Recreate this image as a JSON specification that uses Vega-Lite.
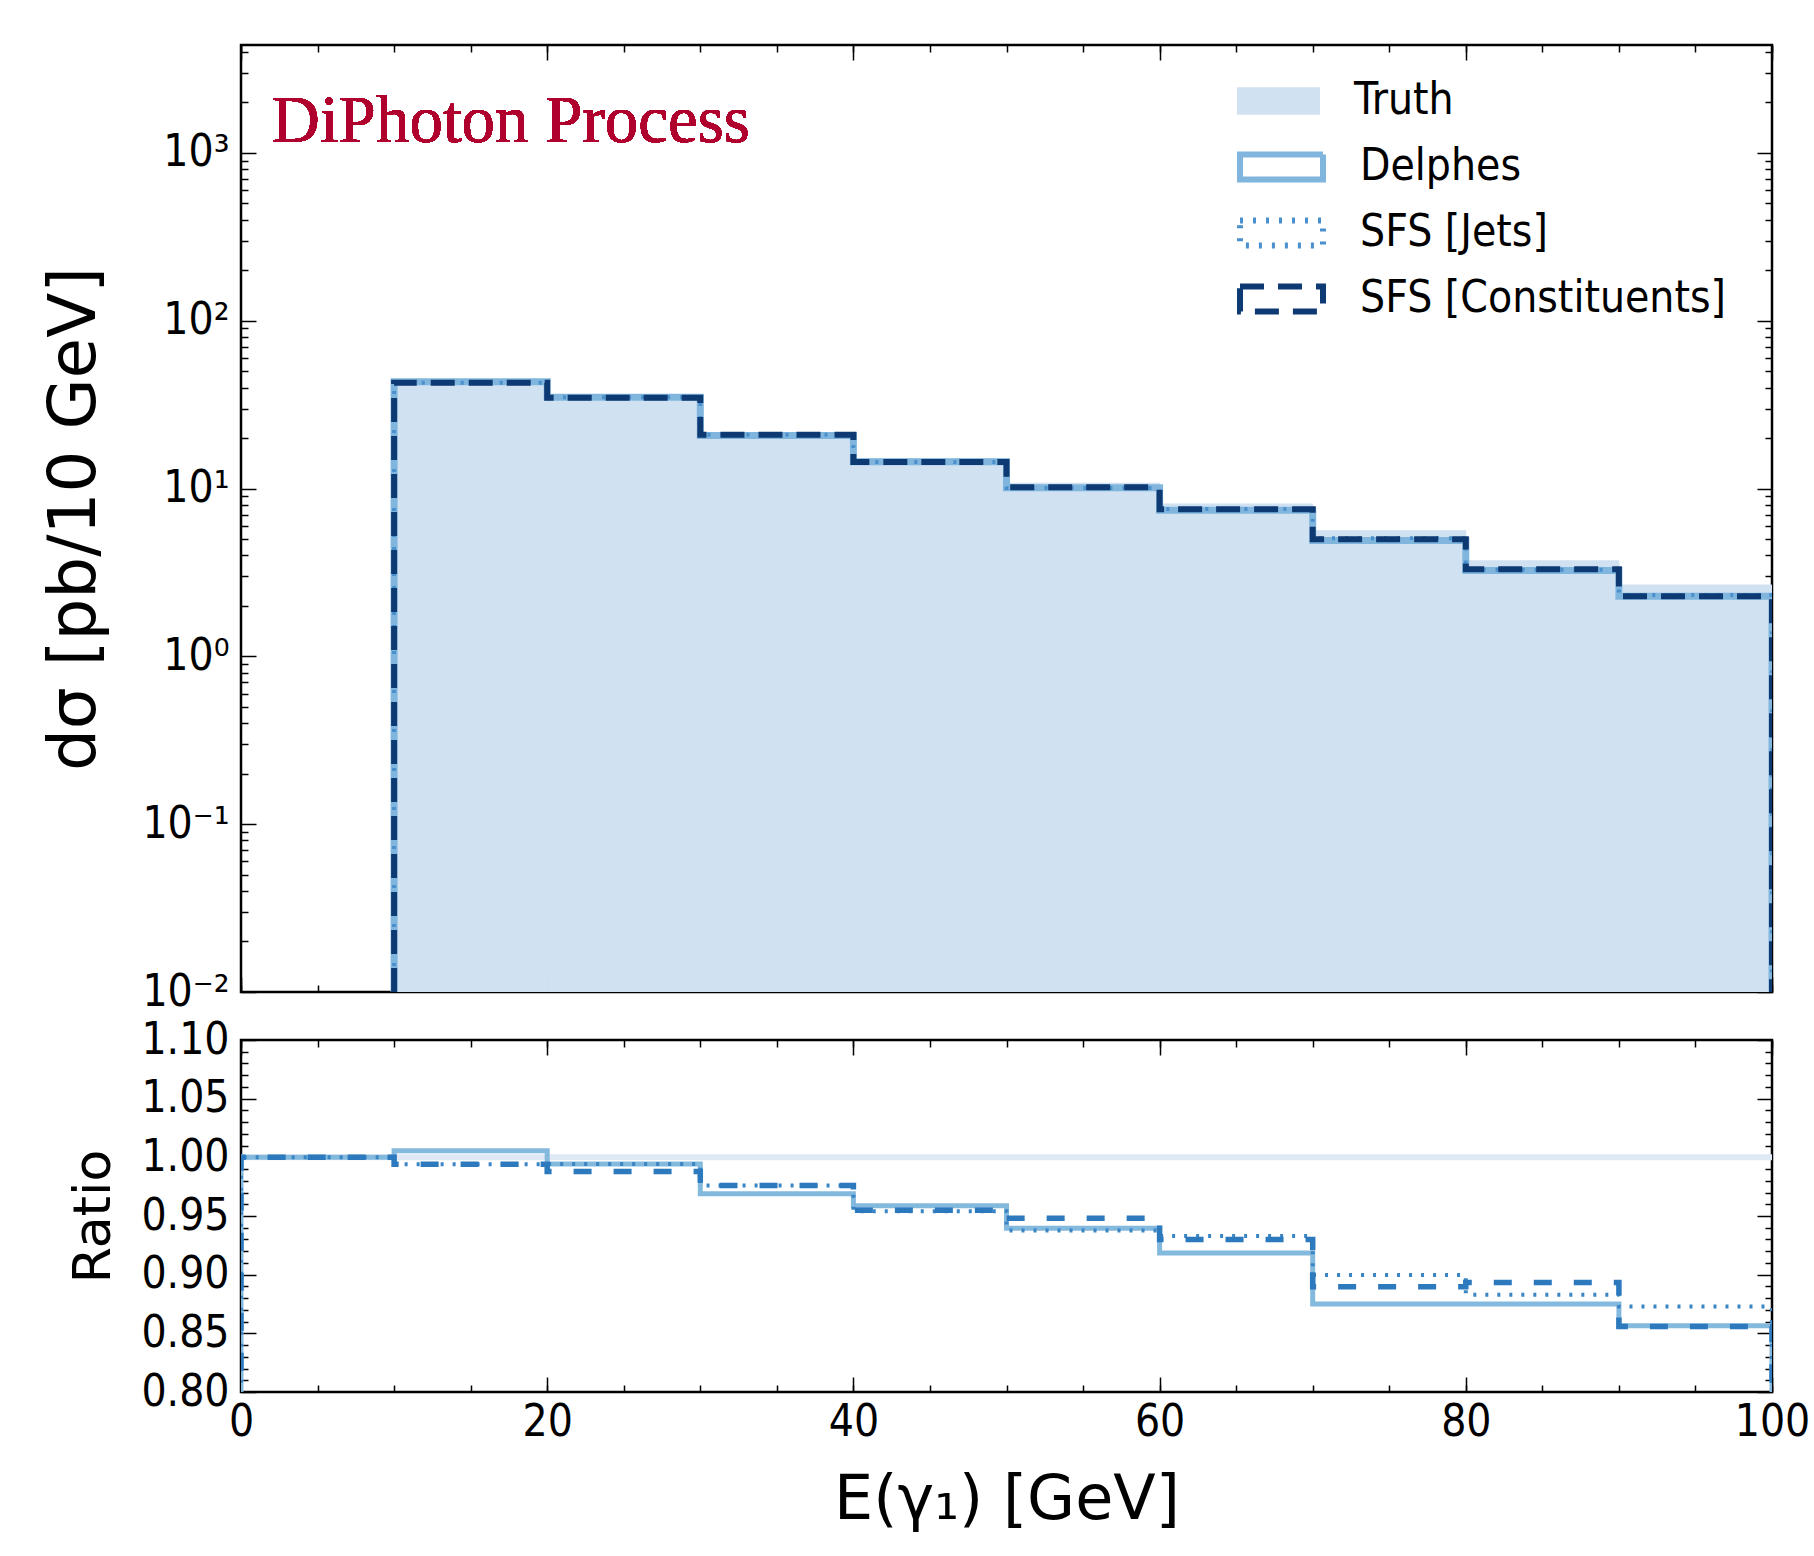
{
  "$schema": "https://vega.github.io/schema/vega-lite/v6.json",
  "background": "white",
  "padding": {"left": 40, "top": 43, "right": 10, "bottom": 5},
  "spacing": 0,
  "datasets": {
    "truth": [
      {"s": "Truth", "lo": 10, "hi": 20, "y": 43.06},
      {"s": "Truth", "lo": 20, "hi": 30, "y": 35.22},
      {"s": "Truth", "lo": 30, "hi": 40, "y": 21.41},
      {"s": "Truth", "lo": 40, "hi": 50, "y": 15.08},
      {"s": "Truth", "lo": 50, "hi": 60, "y": 10.76},
      {"s": "Truth", "lo": 60, "hi": 70, "y": 8.10},
      {"s": "Truth", "lo": 70, "hi": 80, "y": 5.61},
      {"s": "Truth", "lo": 80, "hi": 90, "y": 3.71},
      {"s": "Truth", "lo": 90, "hi": 100, "y": 2.66}
    ],
    "hist": [
      {"s": "Delphes", "x": 10, "y": 0.01, "i": 0},
      {"s": "Delphes", "x": 10, "y": 43.3, "i": 1},
      {"s": "Delphes", "x": 20, "y": 35.0, "i": 2},
      {"s": "Delphes", "x": 30, "y": 20.75, "i": 3},
      {"s": "Delphes", "x": 40, "y": 14.46, "i": 4},
      {"s": "Delphes", "x": 50, "y": 10.11, "i": 5},
      {"s": "Delphes", "x": 60, "y": 7.44, "i": 6},
      {"s": "Delphes", "x": 70, "y": 4.91, "i": 7},
      {"s": "Delphes", "x": 80, "y": 3.25, "i": 8},
      {"s": "Delphes", "x": 90, "y": 2.28, "i": 9},
      {"s": "Delphes", "x": 100, "y": 0.01, "i": 10},
      {"s": "SFS [Jets]", "x": 10, "y": 0.01, "i": 0},
      {"s": "SFS [Jets]", "x": 10, "y": 42.8, "i": 1},
      {"s": "SFS [Jets]", "x": 20, "y": 35.0, "i": 2},
      {"s": "SFS [Jets]", "x": 30, "y": 20.9, "i": 3},
      {"s": "SFS [Jets]", "x": 40, "y": 14.4, "i": 4},
      {"s": "SFS [Jets]", "x": 50, "y": 10.09, "i": 5},
      {"s": "SFS [Jets]", "x": 60, "y": 7.56, "i": 6},
      {"s": "SFS [Jets]", "x": 70, "y": 5.05, "i": 7},
      {"s": "SFS [Jets]", "x": 80, "y": 3.28, "i": 8},
      {"s": "SFS [Jets]", "x": 90, "y": 2.32, "i": 9},
      {"s": "SFS [Jets]", "x": 100, "y": 0.01, "i": 10},
      {"s": "SFS [Constituents]", "x": 10, "y": 0.01, "i": 0},
      {"s": "SFS [Constituents]", "x": 10, "y": 42.8, "i": 1},
      {"s": "SFS [Constituents]", "x": 20, "y": 34.8, "i": 2},
      {"s": "SFS [Constituents]", "x": 30, "y": 20.9, "i": 3},
      {"s": "SFS [Constituents]", "x": 40, "y": 14.4, "i": 4},
      {"s": "SFS [Constituents]", "x": 50, "y": 10.2, "i": 5},
      {"s": "SFS [Constituents]", "x": 60, "y": 7.53, "i": 6},
      {"s": "SFS [Constituents]", "x": 70, "y": 4.99, "i": 7},
      {"s": "SFS [Constituents]", "x": 80, "y": 3.31, "i": 8},
      {"s": "SFS [Constituents]", "x": 90, "y": 2.28, "i": 9},
      {"s": "SFS [Constituents]", "x": 100, "y": 0.01, "i": 10}
    ],
    "ratio": [
      {"s": "Truth", "x": 0, "r": 1.0, "i": 0},
      {"s": "Truth", "x": 100, "r": 1.0, "i": 1},
      {"s": "Delphes", "x": 0, "r": 0, "i": 0},
      {"s": "Delphes", "x": 0, "r": 1.0, "i": 1},
      {"s": "Delphes", "x": 10, "r": 1.0056, "i": 2},
      {"s": "Delphes", "x": 20, "r": 0.9944, "i": 3},
      {"s": "Delphes", "x": 30, "r": 0.969, "i": 4},
      {"s": "Delphes", "x": 40, "r": 0.9587, "i": 5},
      {"s": "Delphes", "x": 50, "r": 0.9396, "i": 6},
      {"s": "Delphes", "x": 60, "r": 0.9185, "i": 7},
      {"s": "Delphes", "x": 70, "r": 0.875, "i": 8},
      {"s": "Delphes", "x": 80, "r": 0.875, "i": 9},
      {"s": "Delphes", "x": 90, "r": 0.8565, "i": 10},
      {"s": "Delphes", "x": 100, "r": 0, "i": 11},
      {"s": "SFS [Jets]", "x": 0, "r": 0, "i": 0},
      {"s": "SFS [Jets]", "x": 0, "r": 1.0, "i": 1},
      {"s": "SFS [Jets]", "x": 10, "r": 0.994, "i": 2},
      {"s": "SFS [Jets]", "x": 20, "r": 0.9944, "i": 3},
      {"s": "SFS [Jets]", "x": 30, "r": 0.976, "i": 4},
      {"s": "SFS [Jets]", "x": 40, "r": 0.954, "i": 5},
      {"s": "SFS [Jets]", "x": 50, "r": 0.9376, "i": 6},
      {"s": "SFS [Jets]", "x": 60, "r": 0.933, "i": 7},
      {"s": "SFS [Jets]", "x": 70, "r": 0.8997, "i": 8},
      {"s": "SFS [Jets]", "x": 80, "r": 0.8829, "i": 9},
      {"s": "SFS [Jets]", "x": 90, "r": 0.8728, "i": 10},
      {"s": "SFS [Jets]", "x": 100, "r": 0, "i": 11},
      {"s": "SFS [Constituents]", "x": 0, "r": 0, "i": 0},
      {"s": "SFS [Constituents]", "x": 0, "r": 1.0, "i": 1},
      {"s": "SFS [Constituents]", "x": 10, "r": 0.994, "i": 2},
      {"s": "SFS [Constituents]", "x": 20, "r": 0.988, "i": 3},
      {"s": "SFS [Constituents]", "x": 30, "r": 0.976, "i": 4},
      {"s": "SFS [Constituents]", "x": 40, "r": 0.955, "i": 5},
      {"s": "SFS [Constituents]", "x": 50, "r": 0.948, "i": 6},
      {"s": "SFS [Constituents]", "x": 60, "r": 0.930, "i": 7},
      {"s": "SFS [Constituents]", "x": 70, "r": 0.8896, "i": 8},
      {"s": "SFS [Constituents]", "x": 80, "r": 0.8933, "i": 9},
      {"s": "SFS [Constituents]", "x": 90, "r": 0.8559, "i": 10},
      {"s": "SFS [Constituents]", "x": 100, "r": 0, "i": 11}
    ]
  },
  "vconcat": [
    {
      "width": 1531,
      "height": 947,
      "data": {"name": "hist"},
      "resolve": {"axis": {"x": "independent", "y": "independent"}},
      "layer": [
        {
          "data": {"name": "truth"},
          "mark": {"type": "rect", "clip": true, "stroke": "#d0e1f2", "strokeWidth": 1},
          "encoding": {
            "x": {"field": "lo", "type": "quantitative", "scale": {"domain": [0, 100], "nice": false, "zero": false},
                  "axis": {"orient": "bottom", "values": [0, 20, 40, 60, 80, 100], "labels": false, "title": null, "tickSize": 15, "offset": -15}},
            "x2": {"field": "hi"},
            "y": {"field": "y", "type": "quantitative", "scale": {"type": "log", "domain": [0.01, 4400], "nice": false},
                  "axis": {"orient": "left", "values": [0.01, 0.1, 1, 10, 100, 1000], "tickSize": 15, "offset": -15, "labelPadding": 12, "labelOverlap": false,
                           "labelExpr": "datum.value >= 999 ? '10³' : datum.value >= 99 ? '10²' : datum.value >= 9 ? '10¹' : datum.value >= 0.9 ? '10⁰' : datum.value >= 0.09 ? '10⁻¹' : '10⁻²'",
                           "title": "dσ [pb/10 GeV]", "titleFontSize": 66, "titlePadding": 33}},
            "y2": {"datum": 0.01},
            "color": {"field": "s", "type": "nominal",
                      "scale": {"domain": ["Truth"], "range": ["#d0e1f2"]},
                      "legend": {"orient": "none", "legendX": 996, "legendY": 33, "title": null,
                                 "symbolType": "M-1,-0.33H1V0.33H-1Z", "symbolSize": 6889, "symbolStrokeWidth": 0,
                                 "labelFont": "DejaVu Sans Condensed", "labelFontSize": 44, "labelColor": "black", "labelLimit": 700,
                                 "labelOffset": 34, "clipHeight": 46, "padding": 0}}
          }
        },
        {
          "transform": [{"filter": "datum.s === 'Delphes'"}],
          "mark": {"type": "line", "interpolate": "step-after", "clip": true, "strokeWidth": 7},
          "encoding": {
            "x": {"field": "x", "type": "quantitative",
                  "axis": {"orient": "bottom", "values": [0,5,10,15,20,25,30,35,40,45,50,55,60,65,70,75,80,85,90,95,100], "labels": false, "title": null, "tickSize": 7, "offset": -7}},
            "y": {"field": "y", "type": "quantitative",
                  "axis": {"orient": "left", "values": [0.02,0.03,0.04,0.05,0.06,0.07,0.08,0.09,0.2,0.3,0.4,0.5,0.6,0.7,0.8,0.9,2,3,4,5,6,7,8,9,20,30,40,50,60,70,80,90,200,300,400,500,600,700,800,900,2000,3000,4000], "labels": false, "title": null, "tickSize": 7, "offset": -7}},
            "stroke": {"field": "s", "type": "nominal",
                       "scale": {"domain": ["Delphes", "SFS [Jets]", "SFS [Constituents]"], "range": ["#80b6dd", "#4a90cc", "#0e3a73"]},
                       "legend": {"orient": "none", "legendX": 996, "legendY": 99, "title": null,
                                  "symbolType": "M-1,-0.3H1V0.3H-1Z", "symbolSize": 6889, "symbolStrokeWidth": 6, "symbolFillColor": "transparent",
                                  "labelFont": "DejaVu Sans Condensed", "labelFontSize": 44, "labelColor": "black", "labelLimit": 700,
                                  "labelOffset": 34, "clipHeight": 46, "rowPadding": 20, "padding": 0}},
            "strokeDash": {"field": "s", "type": "nominal",
                           "scale": {"domain": ["Delphes", "SFS [Jets]", "SFS [Constituents]"], "range": [[1, 0], [3, 10], [24, 14]]}},
            "order": {"field": "i", "type": "quantitative"}
          }
        },
        {
          "transform": [{"filter": "datum.s === 'SFS [Jets]'"}],
          "mark": {"type": "line", "interpolate": "step-after", "clip": true, "strokeWidth": 4},
          "encoding": {
            "x": {"field": "x", "type": "quantitative",
                  "axis": {"orient": "top", "values": [0, 20, 40, 60, 80, 100], "labels": false, "title": null, "tickSize": 15, "offset": -15}},
            "y": {"field": "y", "type": "quantitative",
                  "axis": {"orient": "right", "values": [0.01, 0.1, 1, 10, 100, 1000], "labels": false, "title": null, "tickSize": 15, "offset": -15}},
            "stroke": {"field": "s", "type": "nominal"},
            "strokeDash": {"field": "s", "type": "nominal"},
            "order": {"field": "i", "type": "quantitative"}
          }
        },
        {
          "transform": [{"filter": "datum.s === 'SFS [Constituents]'"}],
          "mark": {"type": "line", "interpolate": "step-after", "clip": true, "strokeWidth": 6},
          "encoding": {
            "x": {"field": "x", "type": "quantitative",
                  "axis": {"orient": "top", "values": [0,5,10,15,20,25,30,35,40,45,50,55,60,65,70,75,80,85,90,95,100], "labels": false, "title": null, "tickSize": 7, "offset": -7}},
            "y": {"field": "y", "type": "quantitative",
                  "axis": {"orient": "right", "values": [0.02,0.03,0.04,0.05,0.06,0.07,0.08,0.09,0.2,0.3,0.4,0.5,0.6,0.7,0.8,0.9,2,3,4,5,6,7,8,9,20,30,40,50,60,70,80,90,200,300,400,500,600,700,800,900,2000,3000,4000], "labels": false, "title": null, "tickSize": 7, "offset": -7}},
            "stroke": {"field": "s", "type": "nominal"},
            "strokeDash": {"field": "s", "type": "nominal"},
            "order": {"field": "i", "type": "quantitative"}
          }
        },
        {
          "mark": {"type": "text", "text": "DiPhoton Process", "font": "Liberation Serif", "fontSize": 67, "color": "#b0002e", "align": "left", "baseline": "alphabetic"},
          "encoding": {
            "x": {"datum": 2.0, "type": "quantitative", "axis": null},
            "y": {"datum": 1162, "type": "quantitative", "axis": null}
          }
        }
      ]
    },
    {
      "width": 1531,
      "height": 352,
      "data": {"name": "ratio"},
      "resolve": {"axis": {"x": "independent", "y": "independent"}},
      "layer": [
        {
          "transform": [{"filter": "datum.s === 'Truth'"}],
          "mark": {"type": "line", "clip": true, "strokeWidth": 6, "stroke": "#dfe9f5"},
          "encoding": {
            "x": {"field": "x", "type": "quantitative", "scale": {"domain": [0, 100], "nice": false, "zero": false},
                  "axis": {"orient": "bottom", "values": [0, 20, 40, 60, 80, 100], "tickSize": 15, "offset": -15, "labelPadding": 8, "labelFlush": false, "title": "E(γ₁) [GeV]", "titlePadding": 25}},
            "y": {"field": "r", "type": "quantitative", "scale": {"domain": [0.8, 1.1], "nice": false, "zero": false},
                  "axis": {"orient": "left", "values": [0.8, 0.85, 0.9, 0.95, 1.0, 1.05, 1.1], "format": ".2f", "tickSize": 15, "offset": -15, "labelPadding": 12, "labelOverlap": false, "title": "Ratio", "titleFontSize": 52, "titlePadding": 20}},
            "order": {"field": "i", "type": "quantitative"}
          }
        },
        {
          "transform": [{"filter": "datum.s === 'Delphes'"}],
          "mark": {"type": "line", "interpolate": "step-after", "clip": true, "strokeWidth": 5, "stroke": "#84b9de"},
          "encoding": {
            "x": {"field": "x", "type": "quantitative",
                  "axis": {"orient": "bottom", "values": [0,5,10,15,20,25,30,35,40,45,50,55,60,65,70,75,80,85,90,95,100], "labels": false, "title": null, "tickSize": 7, "offset": -7}},
            "y": {"field": "r", "type": "quantitative",
                  "axis": {"orient": "left", "values": [0.81,0.82,0.83,0.84,0.86,0.87,0.88,0.89,0.91,0.92,0.93,0.94,0.96,0.97,0.98,0.99,1.01,1.02,1.03,1.04,1.06,1.07,1.08,1.09], "labels": false, "title": null, "tickSize": 7, "offset": -7}},
            "order": {"field": "i", "type": "quantitative"}
          }
        },
        {
          "transform": [{"filter": "datum.s === 'SFS [Jets]'"}],
          "mark": {"type": "line", "interpolate": "step-after", "clip": true, "strokeWidth": 4, "stroke": "#3a86c4", "strokeDash": [3, 9]},
          "encoding": {
            "x": {"field": "x", "type": "quantitative",
                  "axis": {"orient": "top", "values": [0, 20, 40, 60, 80, 100], "labels": false, "title": null, "tickSize": 15, "offset": -15}},
            "y": {"field": "r", "type": "quantitative",
                  "axis": {"orient": "right", "values": [0.8, 0.85, 0.9, 0.95, 1.0, 1.05, 1.1], "labels": false, "title": null, "tickSize": 15, "offset": -15}},
            "order": {"field": "i", "type": "quantitative"}
          }
        },
        {
          "transform": [{"filter": "datum.s === 'SFS [Constituents]'"}],
          "mark": {"type": "line", "interpolate": "step-after", "clip": true, "strokeWidth": 5.5, "stroke": "#2c79bd", "strokeDash": [18, 22]},
          "encoding": {
            "x": {"field": "x", "type": "quantitative",
                  "axis": {"orient": "top", "values": [0,5,10,15,20,25,30,35,40,45,50,55,60,65,70,75,80,85,90,95,100], "labels": false, "title": null, "tickSize": 7, "offset": -7}},
            "y": {"field": "r", "type": "quantitative",
                  "axis": {"orient": "right", "values": [0.81,0.82,0.83,0.84,0.86,0.87,0.88,0.89,0.91,0.92,0.93,0.94,0.96,0.97,0.98,0.99,1.01,1.02,1.03,1.04,1.06,1.07,1.08,1.09], "labels": false, "title": null, "tickSize": 7, "offset": -7}},
            "order": {"field": "i", "type": "quantitative"}
          }
        }
      ]
    }
  ],
  "config": {
    "view": {"stroke": "black", "strokeWidth": 2.5},
    "axis": {
      "domain": false, "grid": false,
      "tickColor": "black", "tickWidth": 1.5,
      "labelColor": "black", "labelFont": "DejaVu Sans Condensed", "labelFontSize": 44,
      "titleColor": "black", "titleFont": "DejaVu Sans", "titleFontSize": 62, "titleFontWeight": "normal"
    }
  }
}
